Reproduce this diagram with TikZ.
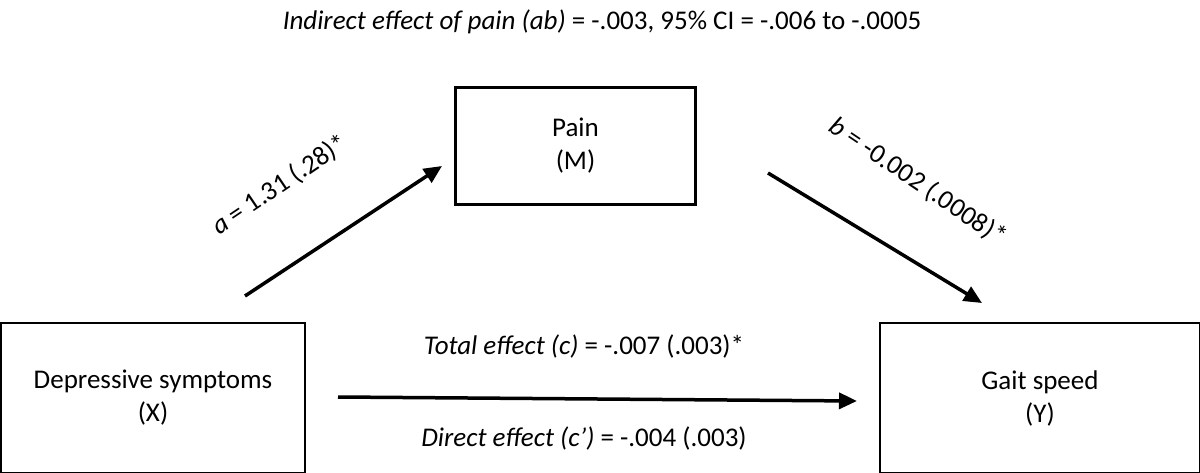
\documentclass[tikz,border=0pt]{standalone}
\usepackage{fontspec}
\setmainfont{Carlito}
\usetikzlibrary{arrows.meta}
\begin{document}
\begin{tikzpicture}[x=1pt,y=-1pt,
  box/.style={draw,line width=2.2pt,align=center,inner sep=0pt},
  arr/.style={line width=3.5pt,-{Triangle[length=18pt,width=16pt]}},
  font=\fontsize{27}{33}\selectfont]
\useasboundingbox (0,0) rectangle (1200,473);
\node[box,minimum width=240pt,minimum height=117pt] (m) at (575.5,146) {Pain\\(M)};
\node[box,minimum width=304pt,minimum height=150pt] (x) at (153,398) {Depressive symptoms\\(X)};
\node[box,minimum width=320pt,minimum height=150pt] (y) at (1040,398) {Gait speed\\(Y)};
\coordinate (a1) at (245,296); \coordinate (a2) at (442,166);
\coordinate (b1) at (768,173); \coordinate (b2) at (982,303);
\coordinate (c1) at (338,397); \coordinate (c2) at (857,401);
\draw[arr] (a1) -- (a2);
\draw[arr] (b1) -- (b2);
\draw[arr] (c1) -- (c2);
\node (t) at (602,22) {\textit{Indirect effect of pain (ab)} = -.003, 95\% CI = -.006 to -.0005};
\node[rotate=34] (la) at (280,185) {\textit{a} = 1.31 (.28)*};
\node[rotate=-34] (lb) at (918,182) {\textit{b} = -0.002 (.0008)*};
\node (lc) at (584,346) {\textit{Total effect (c)} = -.007 (.003)*};
\node (ld) at (584,438) {\textit{Direct effect (c’)} = -.004 (.003)};
\end{tikzpicture}
\end{document}
